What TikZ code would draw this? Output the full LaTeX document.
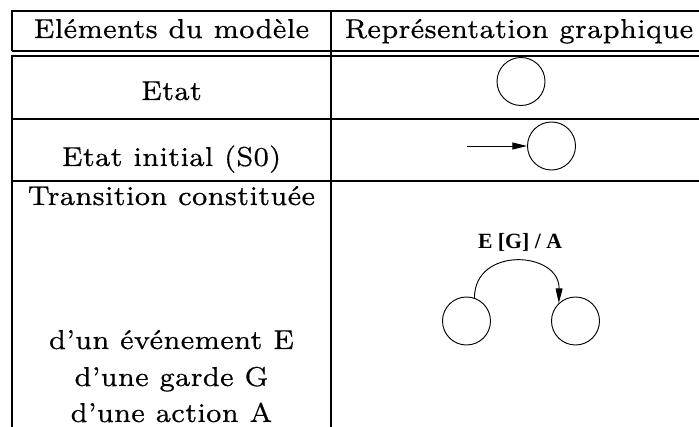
\documentclass[tikz,border=0pt]{standalone}
\usepackage{fontspec}
\usetikzlibrary{arrows.meta}
\newfontfamily\cellfont{lmroman7-regular}[Extension=.otf,FakeBold=0.4]
\newfontfamily\labelfont{Liberation Serif}
\begin{document}
\begin{tikzpicture}[x=0.75pt,y=-0.75pt,
  rule/.style={line width=1pt},
  cell/.style={font=\cellfont\fontsize{20.5}{24}\selectfont, inner sep=0pt, anchor=base},
  state/.style={circle, draw, line width=0.7pt, minimum size=36pt, inner sep=0pt},
  trans/.style={line width=0.7pt, -{Triangle[length=11pt,width=5.2pt]}},
  guard/.style={font=\labelfont\bfseries\fontsize{16.3}{18}\selectfont, inner sep=0pt, anchor=base}]
\useasboundingbox (0,0) rectangle (699,427);

% table rules
\draw[rule] (12,51) -- (12,11) -- (699,11);
\draw[rule] (12,51) -- (699,51);
\draw[rule] (12,427) -- (12,56) -- (699,56);
\draw[rule] (331,11) -- (331,427);
\draw[rule] (12,119) -- (699,119);
\draw[rule] (12,181) -- (699,181);

% header
\node[cell] (h1) at (171.5,38) {Eléments du modèle};
\node[cell] (h2) at (519,38) {Représentation graphique};

% left column
\node[cell] (r1) at (171.5,100) {Etat};
\node[cell] (r2) at (171.5,166) {Etat initial (S0)};
\node[cell] (r3a) at (171.5,205) {Transition constituée};
\node[cell] (r3b) at (171.5,349) {d’un événement E};
\node[cell] (r3c) at (171.5,386) {d’une garde G};
\node[cell] (r3d) at (171.5,422) {d’une action A};

% state
\node[state] (e1) at (521,81.5) {};

% initial state
\coordinate (i0) at (467,146);
\node[state] (e2) at (551.5,146) {};
\draw[trans] (i0) -- (e2);

% transition
\node[guard] (lbl) at (520,249) {E [G] / A};
\node[state] (s1) at (466.5,321) {};
\node[state] (s2) at (575.5,321) {};
\draw[trans] (s1.71) .. controls +(0,-52) and +(1,-52) .. (s2.133);
\end{tikzpicture}
\end{document}
